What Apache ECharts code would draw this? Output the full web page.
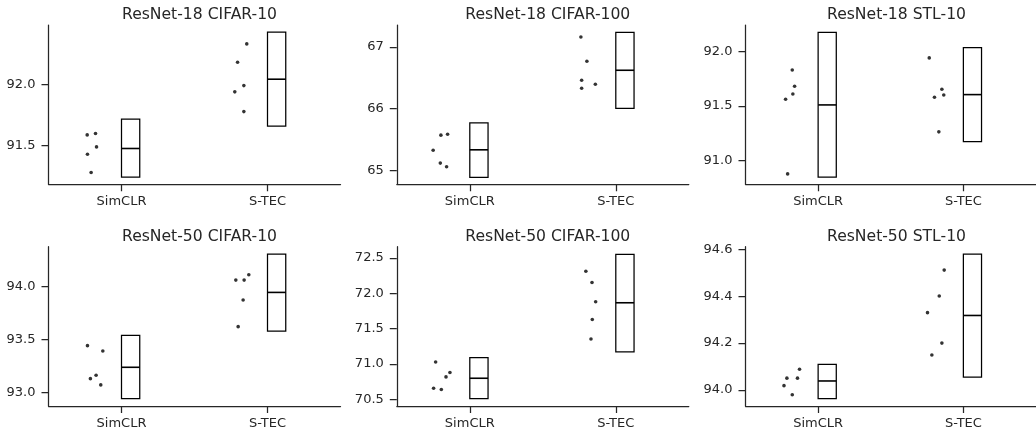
<!DOCTYPE html>
<html>
<head>
<meta charset="utf-8">
<script src="https://cdn.jsdelivr.net/npm/echarts@6/dist/echarts.min.js"></script>
<style>
html,body{margin:0;padding:0;background:#fff;}
#chart{width:1036px;height:432px;}
</style>
</head>
<body>
<div id="chart"></div>
<script>
// ---------- data ----------
const categories = ['SimCLR', 'S-TEC'];
const titles = ['ResNet-18 CIFAR-10', 'ResNet-18 CIFAR-100', 'ResNet-18 STL-10',
                'ResNet-50 CIFAR-10', 'ResNet-50 CIFAR-100', 'ResNet-50 STL-10'];

// individual runs (5 seeds) per panel
const simclrRuns = [
  [91.587, 91.598, 91.489, 91.429, 91.280],
  [65.324, 65.568, 65.584, 65.114, 65.054],
  [91.831, 91.681, 91.610, 91.561, 90.874],
  [93.442, 93.392, 93.163, 93.131, 93.072],
  [71.027, 70.877, 70.815, 70.655, 70.637],
  [94.088, 94.050, 94.050, 94.018, 93.979]
];
const stecRuns = [
  [92.329, 92.179, 91.989, 91.938, 91.777],
  [67.162, 66.768, 66.460, 66.395, 66.330],
  [91.942, 91.653, 91.580, 91.601, 91.261],
  [94.110, 94.060, 94.060, 93.872, 93.621],
  [72.312, 72.152, 71.879, 71.629, 71.352],
  [94.512, 94.401, 94.330, 94.200, 94.149]
];
// horizontal jitter of each run (in category units)
const simclrJitter = [
  [-0.235, -0.178, -0.171, -0.233, -0.208],
  [-0.251, -0.198, -0.152, -0.202, -0.159],
  [-0.178, -0.162, -0.174, -0.224, -0.210],
  [-0.233, -0.128, -0.174, -0.213, -0.142],
  [-0.234, -0.136, -0.163, -0.248, -0.195],
  [-0.128, -0.215, -0.142, -0.235, -0.178]
];
const stecJitter = [
  [-0.142, -0.205, -0.162, -0.224, -0.162],
  [-0.239, -0.198, -0.234, -0.140, -0.234],
  [-0.235, -0.148, -0.199, -0.135, -0.169],
  [-0.128, -0.217, -0.160, -0.167, -0.201],
  [-0.205, -0.163, -0.138, -0.161, -0.170],
  [-0.132, -0.166, -0.247, -0.148, -0.217]
];
// boxes: [low, mean, high]
const simclrBox = [
  [91.242, 91.476, 91.715],
  [64.881, 65.330, 65.767],
  [90.844, 91.509, 92.178],
  [92.943, 93.238, 93.539],
  [70.509, 70.796, 71.088],
  [93.963, 94.038, 94.109]
];
const stecBox = [
  [91.658, 92.041, 92.424],
  [66.005, 66.622, 67.238],
  [91.172, 91.604, 92.037],
  [93.580, 93.944, 94.304],
  [71.170, 71.865, 72.552],
  [94.054, 94.318, 94.580]
];
// axis limits and tick labels
const yMin = [91.184, 64.770, 90.778, 92.873, 70.403, 93.931];
const yMax = [92.483, 67.357, 92.245, 94.375, 72.659, 94.612];
const yTicks = [
  ['91.5', '92.0'],
  ['65', '66', '67'],
  ['91.0', '91.5', '92.0'],
  ['93.0', '93.5', '94.0'],
  ['70.5', '71.0', '71.5', '72.0', '72.5'],
  ['94.0', '94.2', '94.4', '94.6']
];

// ---------- layout ----------
const colLeft = [48.5, 396.8, 745.5];
const rowTop = [25, 246.7];
const gridW = 292;
const gridH = 159.3;
const ink = '#262626';
const FONT = 'DejaVu Sans';
const BOX_W = 0.125;

const grids = [], xAxes = [], yAxes = [], series = [], titleArr = [];
for (let i = 0; i < 6; i++) {
  const r = Math.floor(i / 3), c = i % 3;
  grids.push({left: colLeft[c], top: rowTop[r], width: gridW, height: gridH, containLabel: false});
  titleArr.push({
    text: titles[i],
    left: colLeft[c] + gridW / 2,
    top: rowTop[r] - 23,
    textAlign: 'center',
    textStyle: {fontFamily: FONT, fontSize: 15.6, fontWeight: 'normal', color: ink}
  });
  xAxes.push({
    type: 'value', gridIndex: i, min: -0.5, max: 1.5,
    axisLine: {show: true, onZero: false, lineStyle: {color: ink, width: 1.25}},
    axisTick: {show: true, length: 7, lineStyle: {color: ink, width: 1.25}, customValues: [0, 1]},
    axisLabel: {
      customValues: [0, 1], margin: 11, color: ink, fontFamily: FONT, fontSize: 13,
      formatter: v => categories[Math.round(v)]
    },
    splitLine: {show: false}
  });
  const tv = yTicks[i].map(Number);
  const lbl = {};
  yTicks[i].forEach(s => { lbl[Number(s).toFixed(3)] = s; });
  yAxes.push({
    type: 'value', gridIndex: i, min: yMin[i], max: yMax[i], scale: true,
    axisLine: {show: true, onZero: false, lineStyle: {color: ink, width: 1.25}},
    axisTick: {show: true, length: 7, lineStyle: {color: ink, width: 1.25}, customValues: tv},
    axisLabel: {
      customValues: tv, margin: 13, color: ink, fontFamily: FONT, fontSize: 13,
      formatter: v => lbl[Number(v).toFixed(3)] || ''
    },
    splitLine: {show: false}
  });
  const pts = [];
  simclrRuns[i].forEach((v, k) => pts.push([0 + simclrJitter[i][k], v]));
  stecRuns[i].forEach((v, k) => pts.push([1 + stecJitter[i][k], v]));
  series.push({
    type: 'scatter', xAxisIndex: i, yAxisIndex: i, data: pts,
    symbol: 'circle', symbolSize: 3.6, itemStyle: {color: '#000'}, silent: true, animation: false
  });
  const boxes = [[0].concat(simclrBox[i]), [1].concat(stecBox[i])];
  series.push({
    type: 'custom', xAxisIndex: i, yAxisIndex: i, data: boxes, silent: true, animation: false,
    renderItem: (params, api) => {
      const cat = api.value(0);
      const p1 = api.coord([cat, api.value(3)]);
      const p2 = api.coord([cat + BOX_W, api.value(1)]);
      const pm = api.coord([cat, api.value(2)]);
      return {
        type: 'group',
        children: [
          {type: 'rect', shape: {x: p1[0], y: p1[1], width: p2[0] - p1[0], height: p2[1] - p1[1]},
           style: {fill: 'none', stroke: '#000', lineWidth: 1.25}},
          {type: 'line', shape: {x1: p1[0], y1: pm[1], x2: p2[0], y2: pm[1]},
           style: {stroke: '#000', lineWidth: 1.6}}
        ]
      };
    }
  });
}

const chart = echarts.init(document.getElementById('chart'), null, {renderer: 'canvas'});
chart.setOption({
  animation: false,
  backgroundColor: '#fff',
  title: titleArr,
  grid: grids,
  xAxis: xAxes,
  yAxis: yAxes,
  series: series
});
</script>
</body>
</html>
